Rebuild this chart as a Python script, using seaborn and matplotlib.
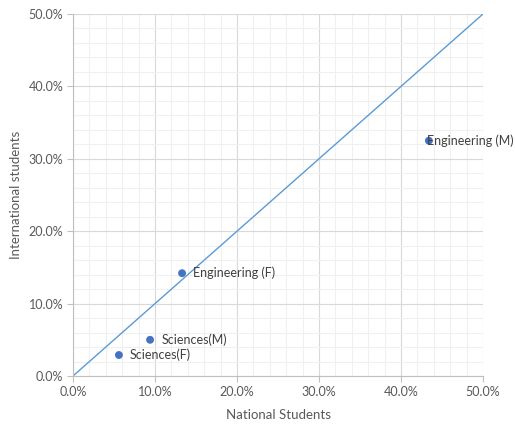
import matplotlib
matplotlib.use("Agg")
import matplotlib.pyplot as plt
from matplotlib.ticker import MultipleLocator, PercentFormatter
import seaborn as sns
import pandas as pd

# Share of students by group, national vs international (percent)
groups = ["Engineering (M)", "Engineering (F)", "Sciences(M)", "Sciences(F)"]
national = [43.4, 13.3, 9.4, 5.6]
international = [32.5, 14.2, 5.0, 2.9]
parity_line = [0.0, 50.0]

df = pd.DataFrame({"group": groups, "national": national, "international": international})

sns.set_theme(style="white")
plt.rcParams["font.family"] = ["Lato", "DejaVu Sans"]

fig = plt.figure(figsize=(5.15, 4.25), dpi=100)
ax = fig.add_axes([73 / 515, 49 / 425, 410 / 515, 362 / 425])

# parity diagonal
sns.lineplot(x=parity_line, y=parity_line, ax=ax, color="#5B9BD5", linewidth=1.0, zorder=2)

sns.scatterplot(data=df, x="national", y="international", ax=ax, color="#4472C4",
                s=32, edgecolor="none", zorder=3)

# labels sit right of their point; the one near the right edge is pulled back onto it
for _, r in df.iterrows():
    dx = -1.5 if r["national"] > 40 else 8
    ax.annotate(r["group"], (r["national"], r["international"]), xytext=(dx, 0),
                textcoords="offset points", va="center", ha="left",
                fontsize=9, color="#404040", zorder=4)

ax.set_xlim(0, 50)
ax.set_ylim(0, 50)
ax.xaxis.set_major_locator(MultipleLocator(10))
ax.yaxis.set_major_locator(MultipleLocator(10))
ax.xaxis.set_minor_locator(MultipleLocator(2))
ax.yaxis.set_minor_locator(MultipleLocator(2))
ax.xaxis.set_major_formatter(PercentFormatter(decimals=1))
ax.yaxis.set_major_formatter(PercentFormatter(decimals=1))

ax.grid(which="major", color="#D9D9D9", linewidth=0.8, zorder=0)
ax.grid(which="minor", color="#F0F0F0", linewidth=0.8, zorder=0)
ax.set_axisbelow(True)

for side in ["top", "right"]:
    ax.spines[side].set_visible(False)
for side in ["left", "bottom"]:
    ax.spines[side].set_color("#BFBFBF")
    ax.spines[side].set_linewidth(0.8)

ax.tick_params(which="major", direction="out", length=4, width=0.8, color="#BFBFBF",
               labelsize=9, labelcolor="#595959", pad=3, bottom=True, left=True)
ax.tick_params(which="minor", length=0)

ax.set_xlabel("National Students", fontsize=9.5, color="#595959", labelpad=8)
ax.set_ylabel("International students", fontsize=9.5, color="#595959", labelpad=5)

fig.savefig("out.png", dpi=100)
